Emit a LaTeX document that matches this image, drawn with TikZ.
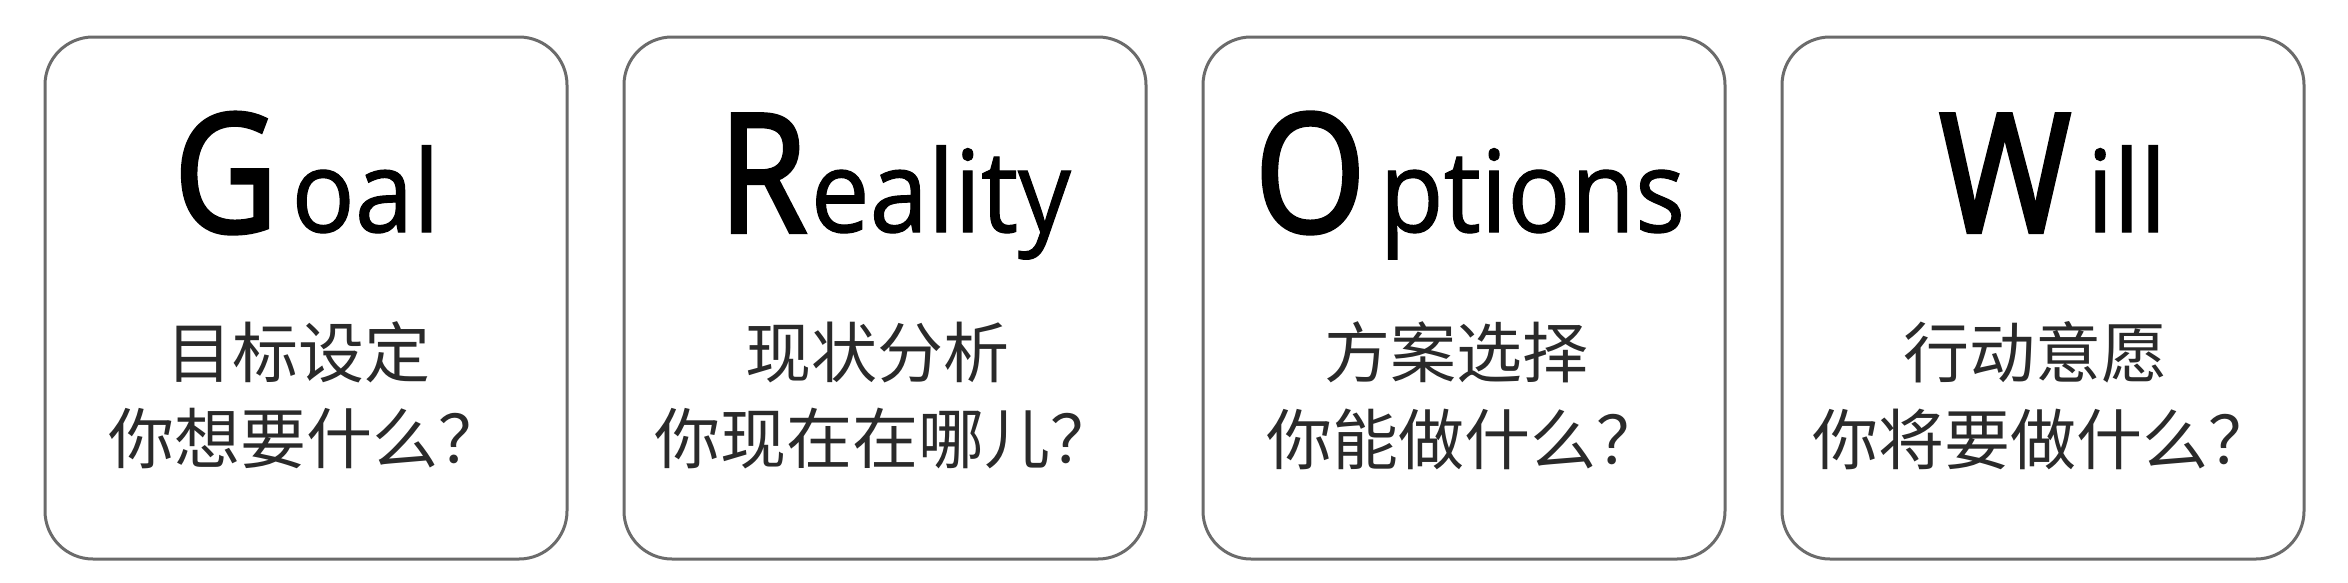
\documentclass[tikz,border=0pt]{standalone}
\usepackage{fontspec}
\setmainfont{Open Sans}[FakeStretch=0.92, FakeBold=1]
\newfontfamily\heavyletter{Open Sans}[FakeBold=2.5, FakeStretch=0.86]
\newfontfamily\cjk{Noto Sans CJK SC}
\definecolor{framegray}{HTML}{6B6B6B}
\definecolor{cntext}{HTML}{2A2A2A}
\newcommand\growtitle[3]{{\heavyletter\fontsize{165}{165}\selectfont #1}\hspace{#3}{\fontsize{114}{114}\selectfont #2}}
\begin{document}
\begin{tikzpicture}[x=1pt,y=-1pt,
  card/.style={draw=framegray, line width=3pt, rounded corners=48pt,
    minimum width=522pt, minimum height=522pt, inner sep=0pt, fill=white},
  ttl/.style={anchor=base, inner sep=0pt, text=black},
  cn/.style={inner sep=0pt, text=cntext, font=\cjk\fontsize{66}{66}\selectfont}]
\useasboundingbox (0,0) rectangle (2348,582);
\fill[white] (0,0) rectangle (2348,582);

% cards
\node[card] (g) at (306,298) {};
\node[card] (r) at (885,298) {};
\node[card] (o) at (1464,298) {};
\node[card] (w) at (2043,298) {};

% titles
\node[ttl] (gt) at (307,232) {\growtitle{G}{oal}{14pt}};
\node[ttl] (rt) at (895,232) {\growtitle{R}{eality}{4pt}};
\node[ttl] (ot) at (1470,232) {\growtitle{O}{ptions}{14pt}};
\node[ttl] (wt) at (2053,232) {\growtitle{W}{ill}{16pt}};

% Chinese lines
\node[cn] (g1) at (298,352) {目标设定};
\node[cn] (g2) at (306,439) {你想要什么？};
\node[cn] (r1) at (877,352) {现状分析};
\node[cn] (r2) at (885,439) {你现在在哪儿？};
\node[cn] (o1) at (1456,352) {方案选择};
\node[cn] (o2) at (1464,439) {你能做什么？};
\node[cn] (w1) at (2035,352) {行动意愿};
\node[cn] (w2) at (2043,439) {你将要做什么？};
\end{tikzpicture}
\end{document}
